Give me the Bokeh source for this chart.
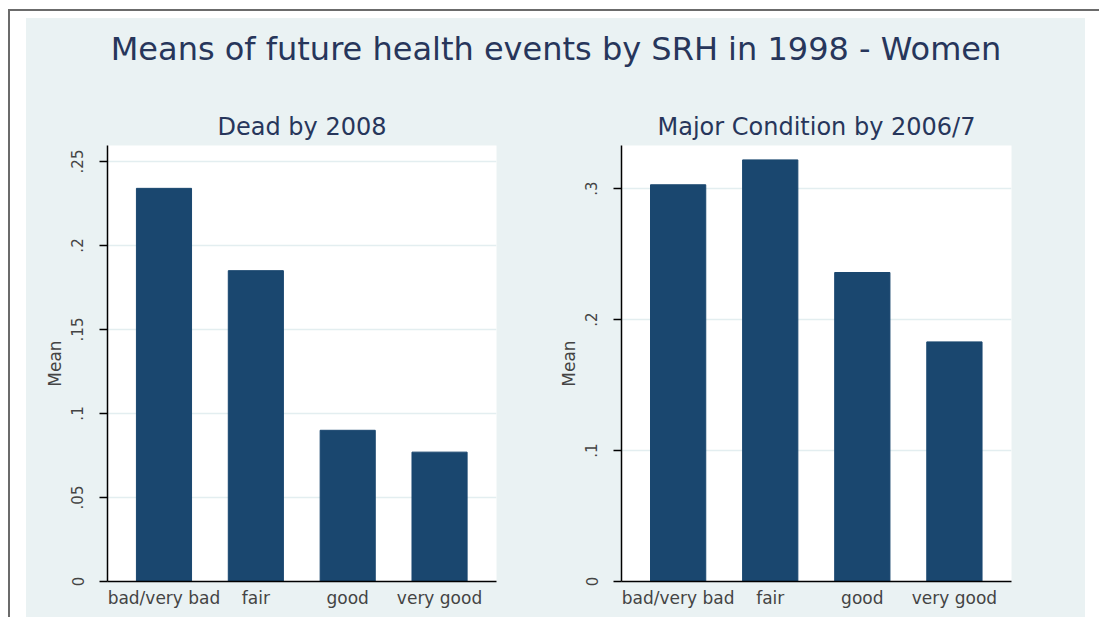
from bokeh.plotting import figure
from bokeh.layouts import column, row
from bokeh.models import Range1d, FixedTicker, ColumnDataSource, Label
from bokeh.embed import file_html
from bokeh.resources import INLINE

categories = ["bad/very bad", "fair", "good", "very good"]
dead_by_2008 = [0.234, 0.185, 0.090, 0.077]
major_by_2006 = [0.303, 0.322, 0.236, 0.183]
left_ticks = [0, 0.05, 0.1, 0.15, 0.2, 0.25]
left_tick_labels = ["0", ".05", ".1", ".15", ".2", ".25"]
right_ticks = [0, 0.1, 0.2, 0.3]
right_tick_labels = ["0", ".1", ".2", ".3"]

BG = "#eaf2f3"
BAR = "#1a476f"
TITLE_C = "#27365b"
FONT = "DejaVu Sans"


def panel(title, values, ticks, tick_labels, ymax, width, bl, br):
    pos = list(range(1, len(categories) + 1))
    src = ColumnDataSource(dict(x=pos, top=values))
    p = figure(width=width, height=512, output_backend="svg", toolbar_location=None,
               x_range=Range1d(0.385, 4.62), y_range=Range1d(0, ymax),
               min_border_left=bl, min_border_right=br, min_border_top=38, min_border_bottom=36)
    p.vbar(x="x", top="top", width=0.6, source=src, fill_color=BAR, line_color=BAR)
    p.title.text = title
    p.title.align = "center"
    p.title.text_font = FONT
    p.title.text_font_size = "24px"
    p.title.text_font_style = "normal"
    p.title.text_color = TITLE_C
    p.background_fill_color = "white"
    p.border_fill_color = BG
    p.outline_line_color = None
    p.xgrid.visible = False
    p.ygrid.grid_line_color = "#e3eef0"
    p.ygrid.grid_line_width = 1.5
    p.yaxis.ticker = FixedTicker(ticks=ticks)
    p.yaxis.major_label_overrides = {t: l for t, l in zip(ticks, tick_labels)}
    p.yaxis.major_label_orientation = "vertical"
    p.yaxis.axis_label = "Mean"
    p.yaxis.axis_label_text_font = FONT
    p.yaxis.axis_label_text_font_size = "17px"
    p.yaxis.axis_label_text_font_style = "normal"
    p.yaxis.axis_label_standoff = 4
    p.yaxis.major_label_text_font = FONT
    p.yaxis.major_label_text_font_size = "15px"
    p.yaxis.major_label_standoff = 16
    p.yaxis.major_tick_out = 8
    p.yaxis.major_tick_in = 0
    p.yaxis.minor_tick_line_color = None
    p.yaxis.axis_line_color = "black"
    p.yaxis.axis_line_width = 1.5
    p.yaxis.major_tick_line_width = 1.5
    p.xaxis.ticker = FixedTicker(ticks=pos)
    p.xaxis.major_label_overrides = {i: c for i, c in zip(pos, categories)}
    p.xaxis.major_tick_line_color = None
    p.xaxis.minor_tick_line_color = None
    p.xaxis.axis_line_color = "black"
    p.xaxis.axis_line_width = 1.5
    p.xaxis.major_label_text_font = FONT
    p.xaxis.major_label_text_font_size = "17px"
    p.xaxis.major_label_standoff = 0
    return p


p1 = panel("Dead by 2008", dead_by_2008, left_ticks, left_tick_labels, 0.2595, 527, 81, 57)
p2 = panel("Major Condition by 2006/7", major_by_2006, right_ticks, right_tick_labels, 0.333, 532, 68, 74)

t = figure(width=1059, height=87, output_backend="svg", toolbar_location=None,
           x_range=Range1d(0, 1), y_range=Range1d(0, 1),
           min_border_top=0, min_border_bottom=0, min_border_left=0, min_border_right=0)
t.add_layout(Label(x=529.5, y=57, x_units="screen", y_units="screen",
                   text="Means of future health events by SRH in 1998 - Women",
                   text_align="center", text_baseline="alphabetic",
                   text_font=FONT, text_font_size="32px", text_color=TITLE_C))
t.axis.visible = False
t.grid.visible = False
t.outline_line_color = None
t.background_fill_color = BG
t.border_fill_color = BG

inner = column(t, row(p1, p2, styles={"background-color": BG}),
               styles={"background-color": BG})
layout = column(inner, styles={
    "margin-left": "8px",
    "margin-top": "9px",
    "border-left": "2px solid #6b6b6b",
    "border-top": "2px solid #6b6b6b",
    "padding-left": "16px",
    "padding-right": "14px",
    "padding-top": "7px",
    "background-color": "white",
})

open("out.html", "w").write(file_html(layout, INLINE))
